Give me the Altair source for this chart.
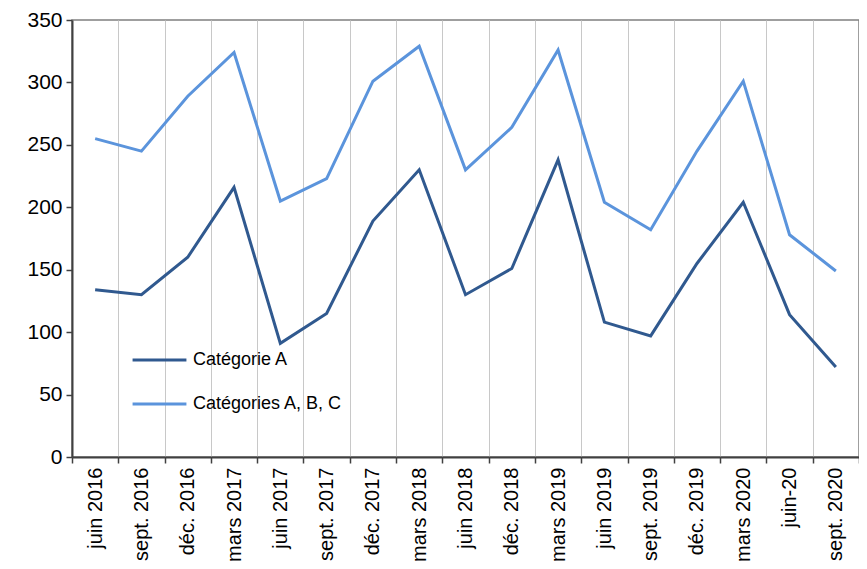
import altair as alt
import pandas as pd

periods = ["juin 2016", "sept. 2016", "déc. 2016", "mars 2017", "juin 2017", "sept. 2017",
           "déc. 2017", "mars 2018", "juin 2018", "déc. 2018", "mars 2019", "juin 2019",
           "sept. 2019", "déc. 2019", "mars 2020", "juin-20", "sept. 2020"]
cat_a = [134, 130, 160, 216, 91, 115, 189, 230, 130, 151, 238, 108, 97, 155, 204, 114, 72]
cat_abc = [255, 245, 289, 324, 205, 223, 301, 329, 230, 264, 326, 204, 182, 245, 301, 178, 149]
series = ["Catégorie A", "Catégories A, B, C"]
colors = ["#30598f", "#5b94dc"]

rows = []
for p, a, b in zip(periods, cat_a, cat_abc):
    rows.append({"periode": p, "serie": series[0], "valeur": a})
    rows.append({"periode": p, "serie": series[1], "valeur": b})
df = pd.DataFrame(rows)

chart = alt.Chart(df).mark_line(strokeWidth=3).encode(
    x=alt.X("periode:N", sort=periods, title=None,
            scale=alt.Scale(paddingInner=0, paddingOuter=0),
            axis=alt.Axis(labelAngle=-90, labelFontSize=20, labelColor="#000",
                          labelFont="Liberation Sans", tickBand="extent",
                          grid=True, gridColor="#c8c8c8", gridWidth=1,
                          domainColor="#404040", domainWidth=2,
                          tickColor="#404040", tickSize=6, tickWidth=1.5,
                          labelPadding=4, labelOverlap=False, labelBound=False)),
    y=alt.Y("valeur:Q", title=None,
            scale=alt.Scale(domain=[0, 350], nice=False),
            axis=alt.Axis(values=list(range(0, 351, 50)), grid=False,
                          labelFontSize=21, labelColor="#000", labelFont="Liberation Sans",
                          domainColor="#404040", domainWidth=2,
                          tickColor="#404040", tickSize=6, tickWidth=1.5,
                          labelPadding=4)),
    color=alt.Color("serie:N", sort=series,
                    scale=alt.Scale(domain=series, range=colors),
                    legend=alt.Legend(title=None, orient="none", legendX=59, legendY=330,
                                      symbolType="stroke", symbolSize=2900,
                                      symbolStrokeWidth=3, labelFontSize=18,
                                      labelFont="Liberation Sans", labelColor="#000",
                                      labelLimit=400,
                                      clipHeight=20, rowPadding=24, labelOffset=5))
).properties(
    width=787, height=437,
    autosize=alt.AutoSizeParams(type="none"),
    padding={"left": 64, "top": 12, "right": 0, "bottom": 104}
).configure_view(stroke="#808080", strokeWidth=1.5)

chart.save("out.html", embed_options={"renderer": "svg", "actions": False})
